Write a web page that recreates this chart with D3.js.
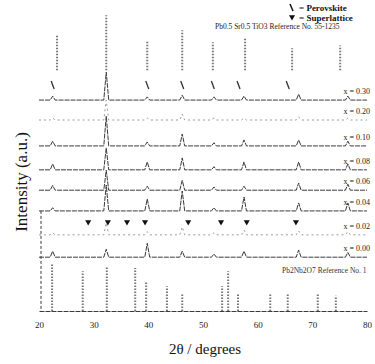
<!DOCTYPE html>
<html>
<head>
<meta charset="utf-8">
<script src="https://cdn.jsdelivr.net/npm/d3@7/dist/d3.min.js"></script>
<style>
  body { margin: 0; background: #fff; }
  svg { display: block; }
</style>
</head>
<body>
<div id="chart"></div>
<script>
// 2θ ticks
const xTicks = [20, 30, 40, 50, 60, 70, 80];

// patterns, top to bottom
const samples = ["x = 0.30", "x = 0.20", "x = 0.10", "x = 0.08", "x = 0.06", "x = 0.04", "x = 0.02", "x = 0.00"];
// vertical offset of each pattern (a.u.)
const offsets = [529, 479, 414, 354, 303, 251, 191, 135];

// perovskite reflections seen in the patterns
const peakPos = [22.5, 32.3, 39.8, 46.2, 52.0, 57.5, 67.5, 76.5];
const peakInt = [
  [10, 70, 8, 12, 8, 10, 15, 10],
  [5, 50, 5, 15, 5, 5, 8, 5],
  [12, 75, 10, 30, 8, 15, 15, 12],
  [15, 55, 20, 30, 8, 20, 20, 15],
  [12, 50, 10, 25, 8, 10, 18, 15],
  [8, 65, 30, 50, 8, 35, 20, 20],
  [5, 30, 8, 20, 5, 12, 10, 8],
  [15, 20, 35, 15, 8, 15, 18, 12]
];

// perovskite reference (top)
const topRefOffset = 604;
const topRefPos = [23.3, 32.3, 39.8, 46.2, 51.8, 57.7, 66.3, 75.1];
const topRefInt = [88, 138, 75, 100, 70, 80, 55, 62];

// second-phase reference (bottom)
const botRefPos = [22.4, 28.0, 32.4, 37.6, 39.6, 43.4, 46.2, 53.5, 54.6, 56.4, 62.3, 65.5, 71.0, 74.3];
const botRefInt = [120, 100, 112, 108, 75, 62, 45, 62, 100, 45, 45, 45, 45, 38];

// superlattice reflections marked on x = 0.02
const superPos = [29.0, 32.6, 36.1, 39.4, 47.3, 53.3, 58.0, 67.0];
const superLevel = 223;

// perovskite markers on x = 0.30
const perovPos = [22.5, 39.8, 46.2, 51.8, 56.5, 65.5];
const perovLevel = 567;

const W = 375, H = 364;
const svg = d3.select("#chart").append("svg")
  .attr("width", W).attr("height", H)
  .style("font-family", "'Liberation Serif', 'DejaVu Serif', serif");

const x = d3.scaleLinear().domain([20, 80]).range([39, 367]);
const y = d3.scaleLinear().domain([0, 780]).range([311, 0]);

const ink = "#3a3a3a";
const heart = d3.symbol(d3.symbolTriangle, 16);

// bottom axis (no tick marks, only labels)
const xAxis = svg.append("g")
  .attr("transform", `translate(0,${y(0)})`)
  .call(d3.axisBottom(x).tickValues(xTicks).tickSize(0).tickPadding(11));
xAxis.select(".domain").attr("stroke", ink).attr("stroke-dasharray", "5,1");
xAxis.selectAll("text")
  .attr("font-size", 9)
  .attr("fill", "#222")
  .style("font-family", "'Liberation Serif', serif");

svg.append("text")
  .attr("x", 205).attr("y", 354)
  .attr("text-anchor", "middle")
  .attr("font-size", 15)
  .attr("fill", "#111")
  .text("2θ / degrees");

svg.append("text")
  .attr("transform", "rotate(-90)")
  .attr("x", -182).attr("y", 27)
  .attr("text-anchor", "middle")
  .attr("font-size", 17)
  .attr("fill", "#111")
  .text("Intensity (a.u.)");

// short left rule
svg.append("line")
  .attr("x1", x(20) + 2).attr("x2", x(20) + 2)
  .attr("y1", y(offsets[5])).attr("y2", y(0))
  .attr("stroke", ink).attr("stroke-dasharray", "3,2");

// patterns
const line = d3.line().x(d => x(d[0])).y(d => y(d[1]));
samples.forEach((label, i) => {
  const base = offsets[i];
  const pts = [[20, base]];
  peakPos.forEach((p, j) => {
    pts.push([p - 0.45, base], [p, base + peakInt[i][j]], [p + 0.45, base]);
  });
  pts.push([80, base]);

  const faint = i === 1 || i === 6;
  svg.append("path")
    .attr("d", line(pts))
    .attr("fill", "none")
    .attr("stroke", faint ? "#9a9a9a" : ink)
    .attr("stroke-width", 1)
    .attr("stroke-dasharray", faint ? "2,3" : "5,1");

  svg.append("text")
    .attr("x", 370).attr("y", y(base) - 6)
    .attr("text-anchor", "end")
    .attr("font-size", 8)
    .attr("fill", "#222")
    .text(label);
});

// perovskite markers
svg.selectAll(".pv")
  .data(perovPos)
  .join("path")
  .attr("d", d => `M${x(d) - 1.5},${y(perovLevel) - 4}L${x(d) + 1.5},${y(perovLevel) + 4}`)
  .attr("stroke", "#333").attr("stroke-width", 1.3);

// superlattice markers
svg.selectAll(".sl")
  .data(superPos)
  .join("path")
  .attr("transform", d => `translate(${x(d)},${y(superLevel)}) rotate(180)`)
  .attr("d", heart)
  .attr("fill", "#111");

// reference sticks
function sticks(pos, ints, base) {
  svg.append("g").selectAll("line")
    .data(pos)
    .join("line")
    .attr("x1", d => x(d)).attr("x2", d => x(d))
    .attr("y1", y(base))
    .attr("y2", (d, i) => y(base + ints[i]))
    .attr("stroke", "#777")
    .attr("stroke-width", 2)
    .attr("stroke-dasharray", "1.5,1.5");
}
sticks(topRefPos, topRefInt, topRefOffset);
sticks(botRefPos, botRefInt, 0);

// reference captions
svg.append("text")
  .attr("x", 215).attr("y", 29)
  .attr("font-size", 7.5).attr("fill", "#222")
  .text("Pb0.5 Sr0.5 TiO3   Reference No. 55-1235");

svg.append("text")
  .attr("x", 282).attr("y", 273)
  .attr("font-size", 7.5).attr("fill", "#333")
  .text("Pb2Nb2O7 Reference No. 1");

// legend
const legend = svg.append("g").attr("font-size", 9).attr("fill", "#111").attr("font-weight", "bold");
legend.append("path")
  .attr("d", "M290,4L293,11").attr("stroke", "#111").attr("stroke-width", 1.5);
legend.append("text").attr("x", 299).attr("y", 11).text("= Perovskite");
legend.append("path")
  .attr("transform", "translate(292,17) rotate(180)")
  .attr("d", heart).attr("fill", "#111");
legend.append("text").attr("x", 299).attr("y", 21).text("= Superlattice");
</script>
</body>
</html>
